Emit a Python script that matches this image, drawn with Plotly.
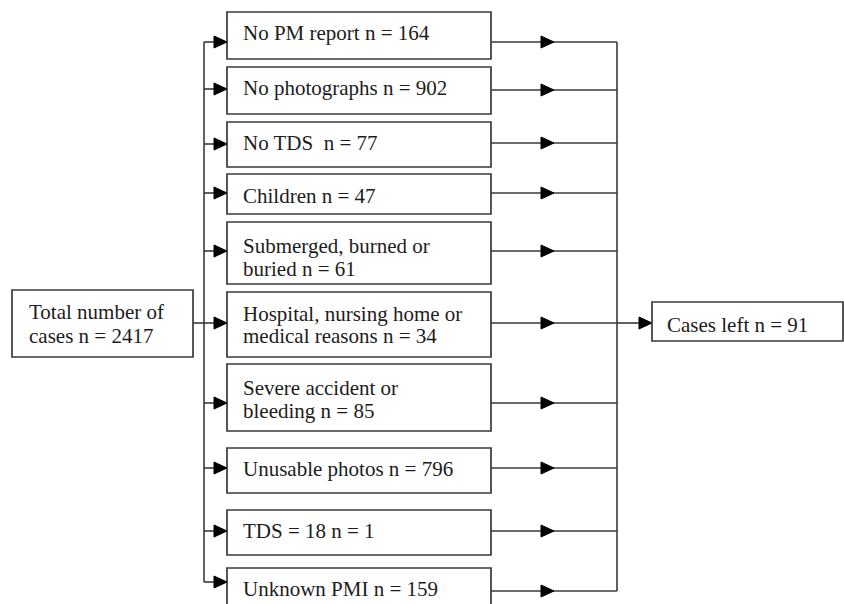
"""Flow chart of excluded cases, drawn with Plotly shapes and annotations."""

import plotly.graph_objects as go

# data
total_cases = 2417
cases_left = 91
reasons = [
    "No PM report",
    "No photographs",
    "No TDS ",
    "Children",
    "Submerged, burned or\nburied",
    "Hospital, nursing home or\nmedical reasons",
    "Severe accident or\nbleeding",
    "Unusable photos",
    "TDS = 18",
    "Unknown PMI",
]
excluded = [164, 902, 77, 47, 61, 34, 85, 796, 1, 159]

# layout of the boxes (pixels, y downwards)
box_x0, box_x1 = 227, 491
box_top = [12, 67, 122, 174, 222, 292, 364, 448, 510, 568]
box_bottom = [59, 114, 167, 214, 284, 357, 431, 493, 555, 612]
baselines = [[39], [94], [149], [202], [252, 275], [320, 342], [394, 417], [475], [537], [595]]
left_arrow_y = [42, 89, 144, 193, 251, 323, 403, 468, 531, 582]
right_arrow_y = [42, 90, 143, 193, 251, 323, 403, 468, 531, 591]
bus_left_x, bus_right_x = 204, 617
mid_head_x = 541

LINE = "#3a3a3a"
INK = "#1c1c1c"
FONT = dict(family="Liberation Serif, Times New Roman, serif", size=21, color=INK)

fig = go.Figure()
shapes = []
annotations = []


def add_box(x0, y0, x1, y1):
    shapes.append(dict(type="rect", x0=x0, y0=y0, x1=x1, y1=y1,
                       line=dict(color=LINE, width=1.7), fillcolor="white", layer="above"))


def add_line(x0, y0, x1, y1):
    shapes.append(dict(type="line", x0=x0, y0=y0, x1=x1, y1=y1,
                       line=dict(color=LINE, width=1.6), layer="above"))


def add_head(x_tip, y):
    # filled right-pointing triangle
    path = f"M {x_tip - 13},{y - 6} L {x_tip},{y} L {x_tip - 13},{y + 6} Z"
    shapes.append(dict(type="path", path=path, fillcolor="black",
                       line=dict(color="black", width=1), layer="above"))


def add_text(x, baseline, text):
    annotations.append(dict(x=x, y=baseline - 6, text=text, showarrow=False,
                            xanchor="left", yanchor="middle", font=FONT,
                            xref="x", yref="y"))


# total box
add_box(12, 290, 193, 357)
add_text(27, 318, "Total number of")
add_text(27, 342, f"cases n = {total_cases}")

# buses
add_line(193, 323, bus_left_x, 323)
add_line(bus_left_x, left_arrow_y[0], bus_left_x, left_arrow_y[-1])
add_line(bus_right_x, right_arrow_y[0], bus_right_x, right_arrow_y[-1])

for i, (reason, n) in enumerate(zip(reasons, excluded)):
    add_box(box_x0, box_top[i], box_x1, box_bottom[i])
    lines = f"{reason} n = {n}".split("\n")
    for line, base in zip(lines, baselines[i]):
        add_text(241, base, line)
    # incoming arrow
    add_line(bus_left_x, left_arrow_y[i], box_x0 - 10, left_arrow_y[i])
    add_head(box_x0, left_arrow_y[i])
    # outgoing arrow
    add_line(box_x1, right_arrow_y[i], bus_right_x, right_arrow_y[i])
    add_head(mid_head_x + 13, right_arrow_y[i])

# remaining cases
add_line(bus_right_x, 323, 642, 323)
add_head(652, 323)
add_box(652, 302, 843, 341)
add_text(665, 331, f"Cases left n = {cases_left}")

fig.update_layout(
    width=844,
    height=604,
    margin=dict(l=0, r=0, t=0, b=0),
    paper_bgcolor="white",
    plot_bgcolor="white",
    shapes=shapes,
    annotations=annotations,
    showlegend=False,
    xaxis=dict(range=[0, 844], visible=False, fixedrange=True),
    yaxis=dict(range=[604, 0], visible=False, fixedrange=True),
)

# the page body has a default 8px margin; drop it so the chart sits at 0,0
fig.write_html(
    "out.html",
    config={"displayModeBar": False},
    post_script="document.body.style.margin='0';document.body.style.overflow='hidden';",
)
